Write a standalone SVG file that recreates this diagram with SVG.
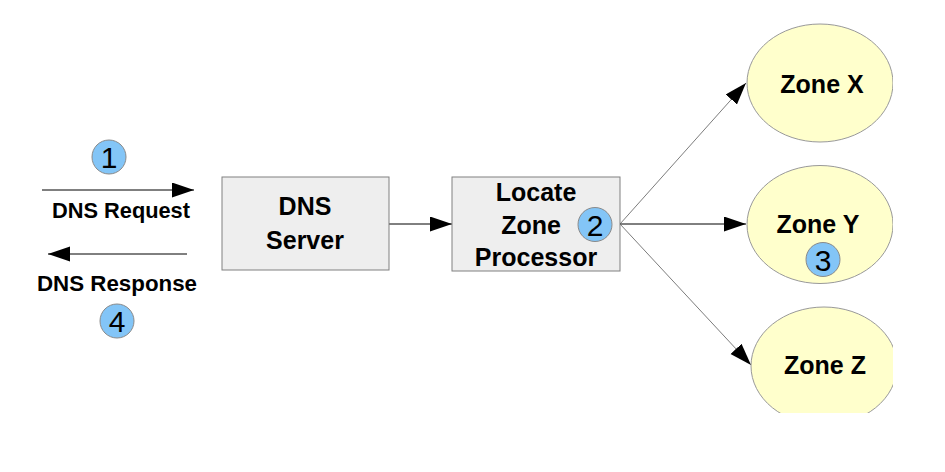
<svg xmlns="http://www.w3.org/2000/svg" width="945" height="472" viewBox="0 0 945 472">
<style>
.box{fill:#eeeeee;stroke:#808080;stroke-width:1}
.zone{fill:#ffffcc;stroke:#999999;stroke-width:1}
.badge{fill:#83c5f7;stroke:#8a8a8a;stroke-width:1}
.t{font-family:"Liberation Sans",Arial,sans-serif;font-weight:bold;font-size:25px;fill:#000;text-anchor:middle}
.lbl{font-family:"Liberation Sans",Arial,sans-serif;font-weight:bold;font-size:21.5px;fill:#000;text-anchor:middle}
.num{font-family:"Liberation Sans",Arial,sans-serif;font-size:30px;fill:#000;text-anchor:middle}
.c{fill:none;stroke:#000;stroke-width:1}
.thin{fill:none;stroke:#444;stroke-width:0.7}
</style>
<defs>
<marker id="ah" markerUnits="userSpaceOnUse" markerWidth="23" markerHeight="16" refX="22" refY="7.5" orient="auto">
<path d="M0,0 L22,7.5 L0,15 z" fill="#000"/>
</marker>
<clipPath id="clipR"><rect x="0" y="0" width="893" height="413"/></clipPath>
</defs>
<rect width="945" height="472" fill="#fff"/>
<g id="connectors">
<line class="c" x1="42" y1="190" x2="194" y2="190" marker-end="url(#ah)"/>
<line class="c" x1="187" y1="254" x2="48" y2="254" stroke="#444" marker-end="url(#ah)"/>
<line class="c" x1="389" y1="224" x2="452" y2="224" marker-end="url(#ah)"/>
<line class="thin" x1="620" y1="224" x2="746" y2="83" marker-end="url(#ah)"/>
<line class="c" x1="620" y1="224" x2="746" y2="224" marker-end="url(#ah)"/>
<line class="thin" x1="620" y1="224" x2="751" y2="365" marker-end="url(#ah)"/>
</g>
<g id="request">
<circle class="badge" cx="109" cy="157" r="17"/>
<text class="num" x="109" y="168">1</text>
<text class="lbl" x="121" y="218" textLength="138" lengthAdjust="spacingAndGlyphs">DNS Request</text>
</g>
<g id="response">
<text class="lbl" x="117" y="291" textLength="160" lengthAdjust="spacingAndGlyphs">DNS Response</text>
<circle class="badge" cx="117" cy="321" r="17"/>
<text class="num" x="117" y="332">4</text>
</g>
<g id="dns-server">
<rect class="box" x="222" y="177" width="167" height="93"/>
<text class="t" x="305" y="215">DNS</text>
<text class="t" x="305" y="249">Server</text>
</g>
<g id="locate-zone-processor">
<rect class="box" x="452" y="177" width="168" height="94"/>
<text class="t" x="536" y="201">Locate</text>
<text class="t" x="531" y="234">Zone</text>
<text class="t" x="536" y="266">Processor</text>
<circle class="badge" cx="595" cy="224.5" r="17"/>
<text class="num" x="595" y="235.5">2</text>
</g>
<g id="zone-x" clip-path="url(#clipR)">
<ellipse class="zone" cx="820" cy="83" rx="73" ry="59"/>
<text class="t" x="822" y="93">Zone X</text>
</g>
<g id="zone-y" clip-path="url(#clipR)">
<ellipse class="zone" cx="820" cy="224.5" rx="73" ry="59"/>
<text class="t" x="818" y="233">Zone Y</text>
<circle class="badge" cx="823" cy="259.5" r="17"/>
<text class="num" x="823" y="270.5">3</text>
</g>
<g id="zone-z" clip-path="url(#clipR)">
<ellipse class="zone" cx="824" cy="366" rx="73" ry="59"/>
<text class="t" x="825" y="374">Zone Z</text>
</g>
</svg>
